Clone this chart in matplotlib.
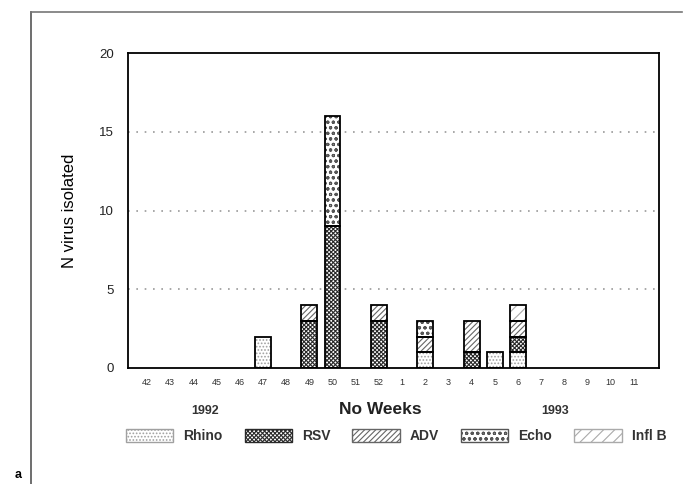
import numpy as np
import matplotlib
matplotlib.use('Agg')
import matplotlib.pyplot as plt
from matplotlib.patches import Patch
from matplotlib.lines import Line2D

plt.rcParams['font.family'] = ['Liberation Sans', 'DejaVu Sans']
plt.rcParams['hatch.linewidth'] = 0.8

weeks = ['42', '43', '44', '45', '46', '47', '48', '49', '50', '51', '52',
         '1', '2', '3', '4', '5', '6', '7', '8', '9', '10', '11']
rhino = [0, 0, 0, 0, 0, 2, 0, 0, 0, 0, 0, 0, 1, 0, 0, 1, 1, 0, 0, 0, 0, 0]
rsv   = [0, 0, 0, 0, 0, 0, 0, 3, 9, 0, 3, 0, 0, 0, 1, 0, 1, 0, 0, 0, 0, 0]
adv   = [0, 0, 0, 0, 0, 0, 0, 1, 0, 0, 1, 0, 1, 0, 2, 0, 1, 0, 0, 0, 0, 0]
echo  = [0, 0, 0, 0, 0, 0, 0, 0, 7, 0, 0, 0, 1, 0, 0, 0, 0, 0, 0, 0, 0, 0]
inflb = [0, 0, 0, 0, 0, 0, 0, 0, 0, 0, 0, 0, 0, 0, 0, 0, 1, 0, 0, 0, 0, 0]

series = [('Rhino', rhino), ('RSV', rsv), ('ADV', adv), ('Echo', echo), ('Infl B', inflb)]
# hatch pattern and hatch colour per virus
styles = {
    'Rhino':  ('.....', '#a0a0a0'),
    'RSV':    ('xxxxxxxx', '#2a2a2a'),
    'ADV':    ('//////', '#666666'),
    'Echo':   ('ooo', '#555555'),
    'Infl B': ('///', '#aaaaaa'),
}

fig = plt.figure(figsize=(6.9, 4.84), dpi=100)
ax = fig.add_axes([128/690, 1-368/484, (659-128)/690, (368-53)/484])

x = np.arange(len(weeks))
w = 0.68
bottom = np.zeros(len(weeks))
for name, vals in series:
    vals = np.array(vals, dtype=float)
    hatch, hc = styles[name]
    mask = vals > 0
    ax.bar(x[mask], vals[mask], w, bottom=bottom[mask], color='white',
           edgecolor=hc, hatch=hatch, linewidth=0, zorder=2)
    ax.bar(x[mask], vals[mask], w, bottom=bottom[mask], fill=False,
           edgecolor='black', linewidth=1.3, zorder=3)
    bottom += vals

for yv in [5, 10, 15]:
    ax.axhline(yv, color='#999999', linestyle=(0, (1, 4)), linewidth=1.2, zorder=1)

ax.set_ylim(0, 20)
ax.set_xlim(-0.82, 22.08)
ax.set_yticks([0, 5, 10, 15, 20])
ax.set_xticks(x)
ax.set_xticklabels(weeks, fontsize=6.5, color='#333333')
ax.tick_params(axis='both', length=0)
ax.tick_params(axis='x', pad=7)
ax.tick_params(axis='y', labelsize=9.5, pad=10, labelcolor='#222222')
for sp in ax.spines.values():
    sp.set_linewidth(1.3)
ax.set_ylabel('N virus isolated', fontsize=12, labelpad=16)

fig.text(380/690, 1-410/484, 'No Weeks', fontsize=12.5, fontweight='bold',
         ha='center', va='center', color='#222222')
fig.text(205/690, 1-411/484, '1992', fontsize=9, fontweight='bold',
         ha='center', va='center', color='#333333')
fig.text(555/690, 1-411/484, '1993', fontsize=9, fontweight='bold',
         ha='center', va='center', color='#333333')
fig.text(18/690, 1-475/484, 'a', fontsize=9, fontweight='bold',
         ha='center', va='center')

handles = [Patch(facecolor='white', edgecolor=styles[n][1], hatch=styles[n][0],
                 linewidth=1.0, label=n) for n, _ in series]
leg = fig.legend(handles=handles, loc='center', bbox_to_anchor=(396/690, 1-436/484),
                 ncol=5, frameon=False, fontsize=10, handlelength=3.4,
                 handleheight=1.1, columnspacing=1.6, handletextpad=0.72)
for t in leg.get_texts():
    t.set_fontweight('bold')
    t.set_color('#333333')

# outer frame lines (left and top)
fig.add_artist(Line2D([31/690, 31/690], [0, 1-12/484], color='#555555',
                      linewidth=1.2, transform=fig.transFigure))
fig.add_artist(Line2D([31/690, 682/690], [1-12/484, 1-12/484], color='#777777',
                      linewidth=1.2, transform=fig.transFigure))

fig.savefig('out.png', dpi=100)
